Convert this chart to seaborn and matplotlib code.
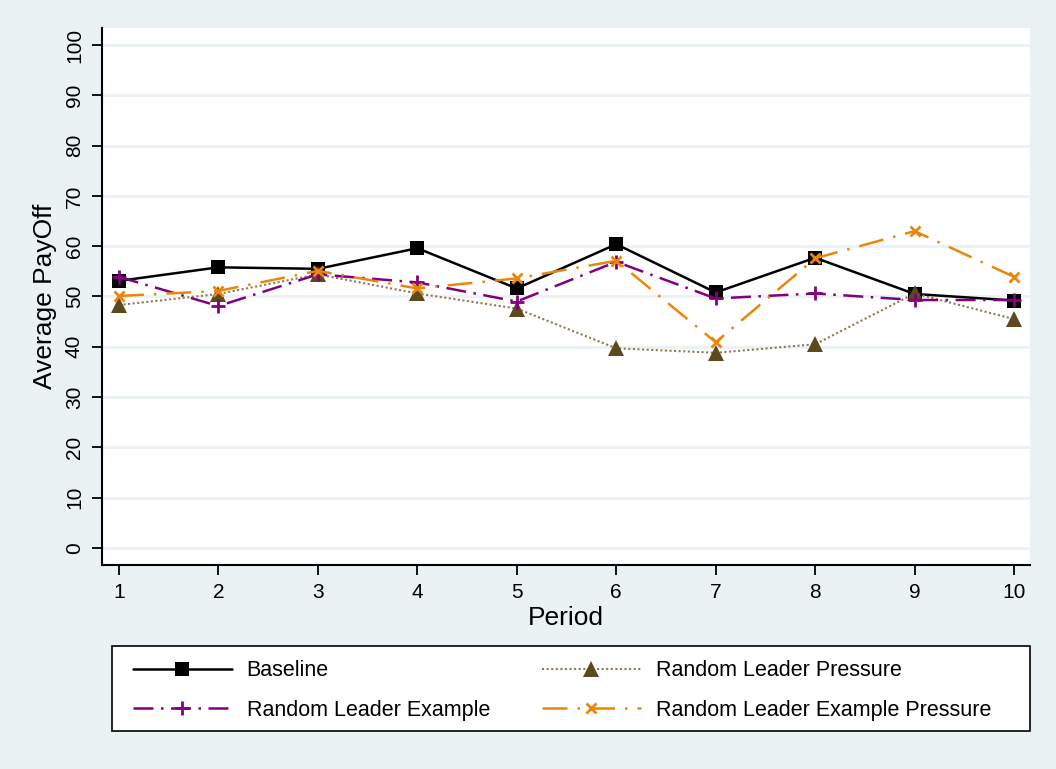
import pandas as pd
import seaborn as sns
import matplotlib.pyplot as plt
from matplotlib.patches import Rectangle

# values
periods = list(range(1, 11))
baseline = [53.1, 55.8, 55.5, 59.6, 51.6, 60.4, 50.8, 57.7, 50.5, 49.2]
rl_pressure = [48.3, 50.5, 54.4, 50.6, 47.6, 39.7, 38.8, 40.5, 50.6, 45.5]
rl_example = [53.9, 48.1, 54.4, 52.8, 49.0, 56.9, 49.6, 50.6, 49.3, 49.3]
rl_example_pressure = [50.1, 51.1, 55.1, 51.6, 53.6, 57.1, 40.9, 57.6, 63.0, 53.9]

names = ["Baseline", "Random Leader Pressure", "Random Leader Example",
         "Random Leader Example Pressure"]
series = [baseline, rl_pressure, rl_example, rl_example_pressure]

df = pd.concat([pd.DataFrame({"Period": periods, "PayOff": s, "Treatment": n})
                for n, s in zip(names, series)], ignore_index=True)

bg = "#EAF2F3"
sns.set_style("white")
plt.rcParams["font.family"] = ["Liberation Sans", "DejaVu Sans"]
plt.rcParams["text.color"] = "black"
plt.rcParams["axes.labelcolor"] = "black"
plt.rcParams["xtick.color"] = "black"
plt.rcParams["ytick.color"] = "black"

palette = {names[0]: "black", names[1]: "#5C4A1E",
           names[2]: "#800080", names[3]: "#E8870E"}
markers = {names[0]: "s", names[1]: "^", names[2]: "P", names[3]: "X"}
dashes = {names[0]: "", names[1]: (1, 1.2), names[2]: (8, 3, 1, 3),
          names[3]: (10, 4, 1, 4)}

fig = plt.figure(figsize=(10.56, 7.69), dpi=100, facecolor=bg)
ax = fig.add_axes([0.0966, 0.2653, 0.8788, 0.6983])

sns.lineplot(data=df, x="Period", y="PayOff", hue="Treatment", style="Treatment",
             palette=palette, markers=markers, dashes=dashes, ax=ax,
             linewidth=1.8, markersize=10, markeredgewidth=0, legend=False)

lines = ax.get_lines()
# lighter dotted line for the pressure series
lines[1].set_color("#8C7A55")
lines[1].set_linewidth(1.5)
lines[1].set_markerfacecolor("#5C4A1E")
lines[1].set_markeredgecolor("#5C4A1E")
lines[1].set_markersize(11)
# plus / x markers drawn as strokes
lines[2].set_marker("+")
lines[2].set_markeredgecolor("#800080")
lines[2].set_markeredgewidth(2)
lines[2].set_markersize(10)
lines[3].set_marker("x")
lines[3].set_markeredgecolor("#E8870E")
lines[3].set_markeredgewidth(2)
lines[3].set_markersize(7)

ax.set_xlim(0.83, 10.16)
ax.set_ylim(-3.4, 103.4)
ax.set_xticks(periods)
ax.set_yticks(range(0, 101, 10))
ax.yaxis.grid(True, color=bg, linewidth=2)
ax.set_axisbelow(True)
for s in ["top", "right"]:
    ax.spines[s].set_visible(False)
for s in ["left", "bottom"]:
    ax.spines[s].set_color("black")
    ax.spines[s].set_linewidth(1.5)
ax.tick_params(axis="both", direction="out", length=7, width=1.3,
               labelsize=15, left=True, bottom=True, pad=6)
plt.setp(ax.get_yticklabels(), rotation=90, va="center")
ax.set_xlabel("Period", fontsize=19, labelpad=3)
ax.set_ylabel("Average PayOff", fontsize=19, labelpad=6)

# legend box
fig.patches.append(Rectangle((112 / 1056, 38 / 769), 918 / 1056, 85 / 769,
                             transform=fig.transFigure, facecolor="white",
                             edgecolor="black", linewidth=1.2, zorder=0))
handles = [lines[0], lines[2], lines[1], lines[3]]
labels = [names[0], names[2], names[1], names[3]]
fig.legend(handles, labels, ncol=2, loc="center left",
           bbox_to_anchor=(124 / 1056, 78.5 / 769), frameon=False,
           fontsize=15.5, handlelength=4.6, handletextpad=0.7,
           columnspacing=2.4, borderaxespad=0, labelspacing=0.85)

fig.savefig("out.png", dpi=100, facecolor=bg)
